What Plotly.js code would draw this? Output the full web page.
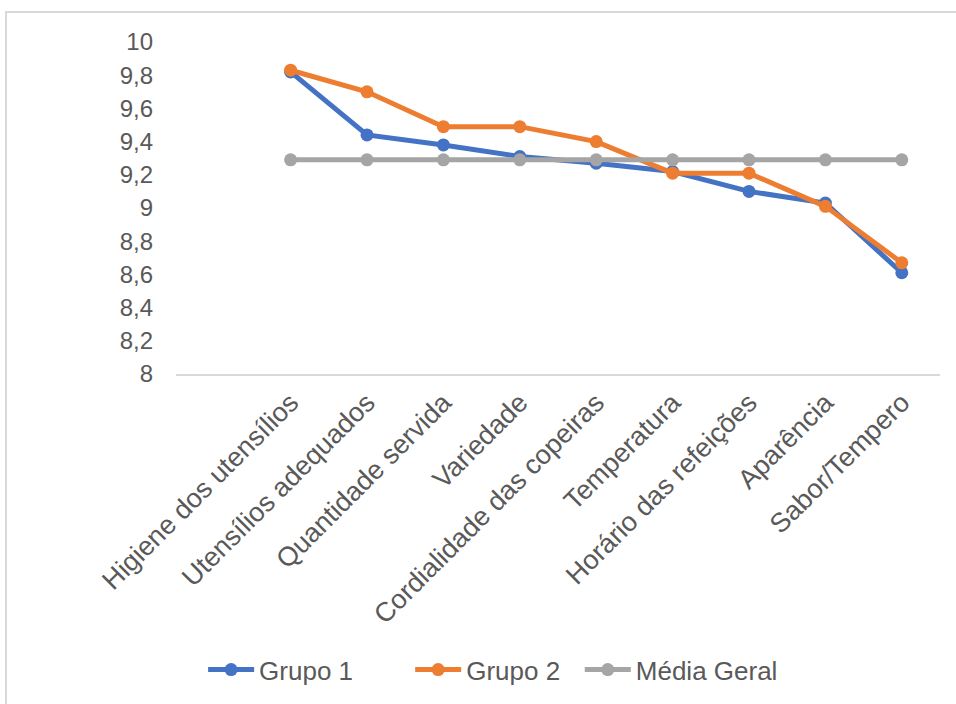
<!DOCTYPE html>
<html>
<head>
<meta charset="utf-8">
<script src="https://cdn.plot.ly/plotly-3.0.1.min.js"></script>
<style>
  html, body { margin: 0; padding: 0; background: #ffffff; overflow: hidden; }
  #frame { position: absolute; left: 5px; top: 11px; width: 1000px; height: 800px; border: 2px solid #d9d9d9; box-sizing: border-box; }
  #chart { position: absolute; left: 0; top: 0; width: 956px; height: 704px; }
</style>
</head>
<body>
<div id="frame"></div>
<div id="chart"></div>
<script>
const categories = [
  "Higiene dos utensílios",
  "Utensílios adequados",
  "Quantidade servida",
  "Variedade",
  "Cordialidade das copeiras",
  "Temperatura",
  "Horário das refeições",
  "Aparência",
  "Sabor/Tempero"
];
const grupo1 = [9.82, 9.44, 9.38, 9.31, 9.27, 9.22, 9.10, 9.03, 8.61];
const grupo2 = [9.83, 9.70, 9.49, 9.49, 9.40, 9.21, 9.21, 9.01, 8.67];
const mediaGeral = [9.29, 9.29, 9.29, 9.29, 9.29, 9.29, 9.29, 9.29, 9.29];
const yTickVals = [8, 8.2, 8.4, 8.6, 8.8, 9, 9.2, 9.4, 9.6, 9.8, 10];
const yTickText = ["8", "8,2", "8,4", "8,6", "8,8", "9", "9,2", "9,4", "9,6", "9,8", "10"];

const FONT = "Liberation Sans, Arial, sans-serif";
function series(name, y, color, legendId) {
  return {
    type: "scatter", mode: "lines+markers", name: name,
    x: categories, y: y, legend: legendId,
    line: { color: color, width: 5 },
    marker: { color: color, size: 13 }
  };
}
const data = [
  series("Grupo 1", grupo1, "#4472C4", "legend"),
  series("Grupo 2", grupo2, "#ED7D31", "legend2"),
  series("Média Geral", mediaGeral, "#A5A5A5", "legend3")
];
function leg(x) {
  return {
    orientation: "h", x: x, xanchor: "left", y: -0.885, yanchor: "middle",
    font: { family: FONT, size: 26, color: "#595959" },
    itemwidth: 46, bgcolor: "rgba(0,0,0,0)"
  };
}
const layout = {
  width: 956, height: 704,
  margin: { l: 176, r: 16, t: 42, b: 329 },
  paper_bgcolor: "rgba(0,0,0,0)",
  plot_bgcolor: "rgba(0,0,0,0)",
  font: { family: FONT, color: "#595959", size: 24 },
  showlegend: true,
  legend: leg(0.0355),
  legend2: leg(0.3065),
  legend3: leg(0.5285),
  xaxis: {
    type: "category",
    categoryorder: "array", categoryarray: categories,
    range: [-1.5, 8.5],
    tickangle: -45,
    showgrid: false, zeroline: false,
    showline: true, linecolor: "#d9d9d9", linewidth: 2,
    ticks: "", tickfont: { family: FONT, size: 27, color: "#595959" },
    automargin: false,
    fixedrange: true
  },
  yaxis: {
    range: [8, 10],
    tickvals: yTickVals, ticktext: yTickText,
    showgrid: false, zeroline: false, showline: false,
    ticks: "", ticklabelstandoff: 22,
    tickfont: { family: FONT, size: 24, color: "#595959" },
    automargin: false,
    fixedrange: true
  }
};
Plotly.newPlot("chart", data, layout, { displayModeBar: false, staticPlot: true });
</script>
</body>
</html>
